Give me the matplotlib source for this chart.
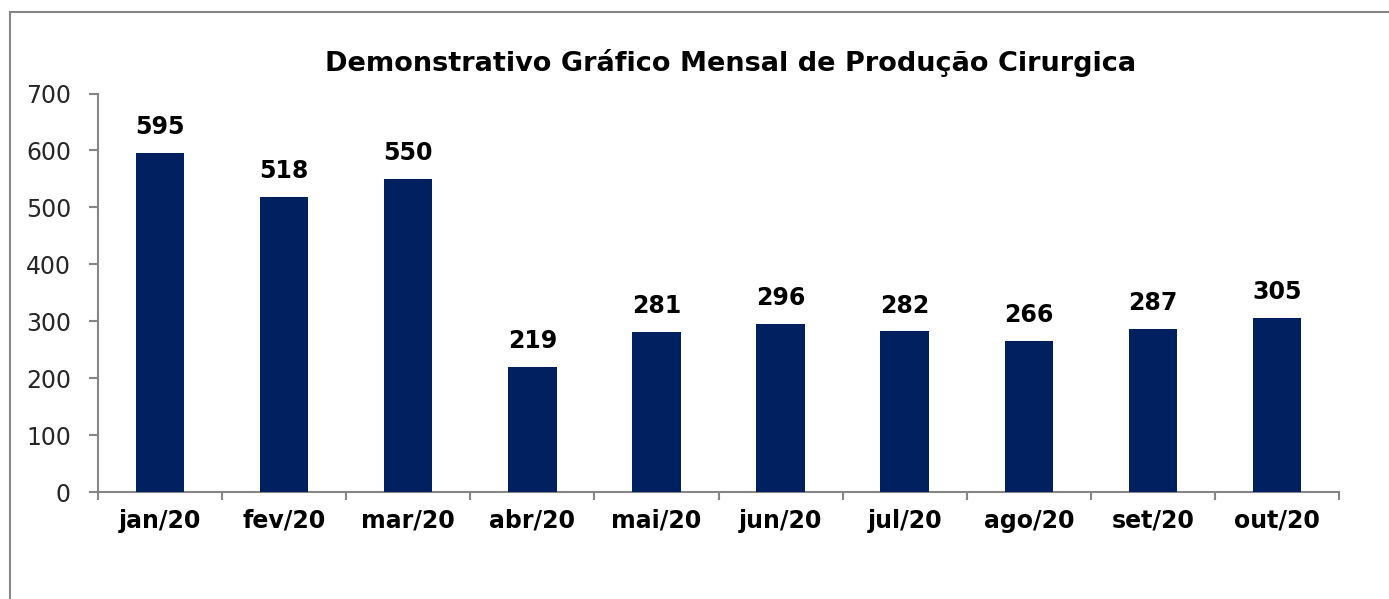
import matplotlib.pyplot as plt
from matplotlib.lines import Line2D

# monthly surgical production
months = ['jan/20', 'fev/20', 'mar/20', 'abr/20', 'mai/20',
          'jun/20', 'jul/20', 'ago/20', 'set/20', 'out/20']
values = [595, 518, 550, 219, 281, 296, 282, 266, 287, 305]
y_ticks = [0, 100, 200, 300, 400, 500, 600, 700]

bar_color = '#002060'
axis_color = '#868686'

plt.rcParams['font.family'] = ['DejaVu Sans']

fig = plt.figure(figsize=(13.89, 5.99), dpi=100)
ax = fig.add_axes([0.0706, 0.1786, 0.8934, 0.6653])

x = list(range(len(months)))
bars = ax.bar(x, values, width=0.39, color=bar_color, zorder=3)

for xi, v in zip(x, values):
    ax.annotate(str(v), (xi, v), xytext=(0, 10), textcoords='offset points',
                ha='center', va='bottom', fontsize=17, fontweight='bold', color='black')

ax.set_xlim(-0.5, len(months) - 0.5)
ax.set_ylim(0, 700)
ax.set_yticks(y_ticks)
ax.set_yticklabels([str(t) for t in y_ticks], fontsize=17, color='#262626')

# category labels centered, ticks at boundaries
ax.set_xticks([i - 0.5 for i in range(len(months) + 1)])
ax.set_xticklabels([])
ax.set_xticks(x, minor=True)
ax.set_xticklabels(months, minor=True, fontsize=17, fontweight='bold', color='black')
ax.tick_params(axis='x', which='minor', length=0, pad=12)
ax.tick_params(axis='x', which='major', length=6, width=1.5, color=axis_color, direction='out')
ax.tick_params(axis='y', length=6.5, width=1.5, color=axis_color, direction='out', pad=13)

for s in ['top', 'right']:
    ax.spines[s].set_visible(False)
for s in ['left', 'bottom']:
    ax.spines[s].set_color(axis_color)
    ax.spines[s].set_linewidth(1.5)

fig.text(731 / 1389, 1 - 63 / 599, 'Demonstrativo Gráfico Mensal de Produção Cirurgica',
         ha='center', va='center', fontsize=19.5, fontweight='bold', color='black')

# chart area border (left and top only visible)
fig.add_artist(Line2D([10 / 1389, 10 / 1389], [0, 1 - 12 / 599],
                      transform=fig.transFigure, color=axis_color, lw=1.5))
fig.add_artist(Line2D([10 / 1389, 1.0], [1 - 12 / 599, 1 - 12 / 599],
                      transform=fig.transFigure, color=axis_color, lw=1.5))

fig.savefig('out.png', dpi=100)
